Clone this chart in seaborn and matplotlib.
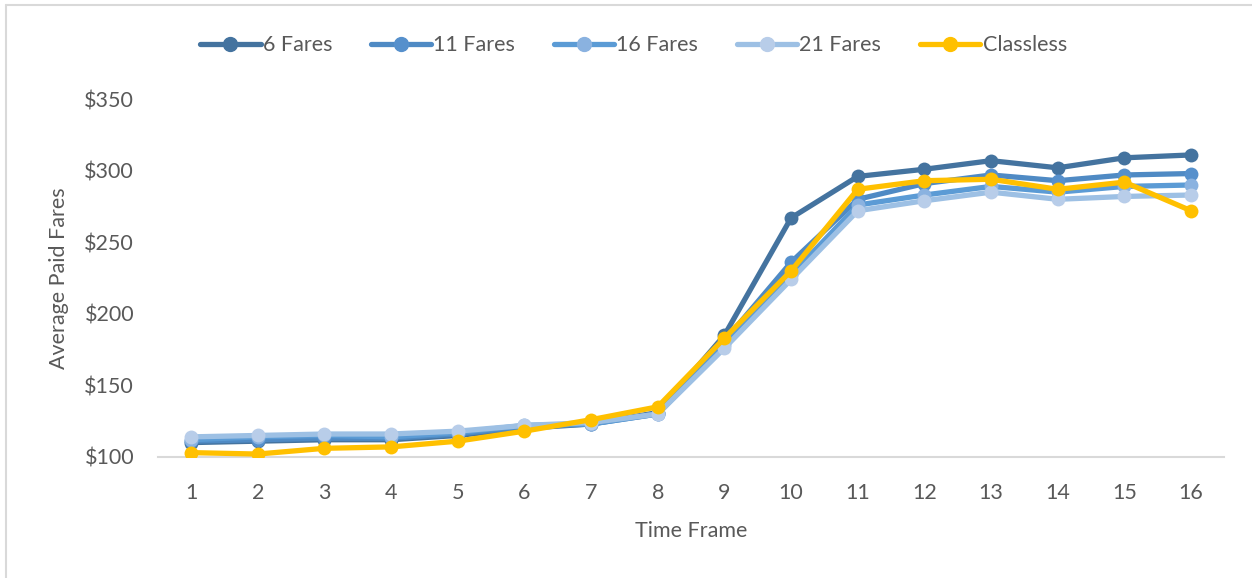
import matplotlib
matplotlib.use("Agg")
import matplotlib.pyplot as plt
import matplotlib.ticker as mticker
from matplotlib.lines import Line2D
import seaborn as sns
import pandas as pd

time_frames = list(range(1, 17))

fares_6 = [110, 111, 112, 112, 115, 120, 123, 131, 185, 267, 296, 301, 307, 302, 309, 311]
fares_11 = [111, 112, 113, 113, 116, 121, 123, 130, 181, 236, 280, 291, 297, 293, 297, 298]
fares_16 = [112, 114, 115, 114, 117, 122, 123, 130, 178, 227, 276, 283, 289, 285, 289, 290]
fares_21 = [114, 115, 116, 116, 118, 122, 124, 130, 176, 224, 272, 279, 285, 280, 282, 283]
classless = [103, 102, 106, 107, 111, 118, 126, 135, 183, 230, 287, 293, 294, 287, 292, 272]

series_names = ["6 Fares", "11 Fares", "16 Fares", "21 Fares", "Classless"]
series_values = [fares_6, fares_11, fares_16, fares_21, classless]
line_colors = ["#44739F", "#4F8AC4", "#5B9BD5", "#9DC0E4", "#FFC000"]
marker_colors = ["#44739F", "#5690CC", "#8AB2E0", "#B8CDE9", "#FFC000"]

y_ticks = [100, 150, 200, 250, 300, 350]

df = pd.DataFrame({
    "Time Frame": time_frames * len(series_names),
    "Average Paid Fares": [v for vals in series_values for v in vals],
    "Series": [n for n in series_names for _ in time_frames],
})

sns.set_theme(style="white")
plt.rcParams["font.family"] = ["Lato", "DejaVu Sans"]
text_color = "#595959"
fs = 15.5

fig = plt.figure(figsize=(12.52, 5.78), dpi=100)
ax = fig.add_axes([0.126, 0.2095, 0.852, 0.619])

for name, lc, mc in zip(series_names, line_colors, marker_colors):
    sub = df[df["Series"] == name]
    sns.lineplot(data=sub, x="Time Frame", y="Average Paid Fares", ax=ax,
                 color=lc, linewidth=3.8, marker="o", markersize=10,
                 markerfacecolor=mc, markeredgecolor=mc, markeredgewidth=0,
                 label=name, legend=False)

ax.set_xlim(0.5, 16.5)
ax.set_ylim(100, 350)
ax.set_xticks(time_frames)
ax.set_xticklabels([str(t) for t in time_frames])
ax.set_yticks(y_ticks)
ax.yaxis.set_major_formatter(mticker.FuncFormatter(lambda v, p: f"${v:.0f}"))
ax.tick_params(axis="both", length=0, labelsize=fs, colors=text_color)
ax.tick_params(axis="x", pad=19)
ax.tick_params(axis="y", pad=17)

for side in ["top", "right", "left"]:
    ax.spines[side].set_visible(False)
ax.spines["bottom"].set_color("#D9D9D9")
ax.spines["bottom"].set_linewidth(1.5)
ax.spines["bottom"].set_zorder(0)

ax.set_xlabel("Time Frame", fontsize=fs, color=text_color, labelpad=13)
ax.set_ylabel("Average Paid Fares", fontsize=fs, color=text_color, labelpad=11)

handles = [Line2D([0], [0], color=lc, linewidth=3.8, marker="o", markersize=10,
                  markerfacecolor=mc, markeredgecolor=mc)
           for lc, mc in zip(line_colors, marker_colors)]
fig.legend(handles, series_names, loc="center", bbox_to_anchor=(0.506, 0.922),
           ncol=5, frameon=False, fontsize=fs, labelcolor=text_color,
           handlelength=2.8, handletextpad=0.1, columnspacing=1.8)

# thin frame along the top and left edges
fig.add_artist(Line2D([0.0045, 1.0], [0.9915, 0.9915], transform=fig.transFigure,
                      color="#D9D9D9", linewidth=1.5))
fig.add_artist(Line2D([0.0045, 0.0045], [0.0, 0.9915], transform=fig.transFigure,
                      color="#D9D9D9", linewidth=1.5))

fig.savefig("out.png", dpi=100, facecolor="white")
